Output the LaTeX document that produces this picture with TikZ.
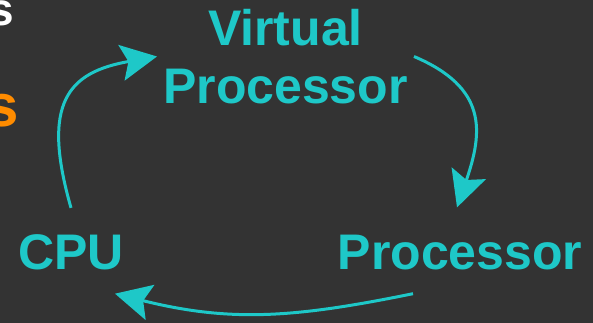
\documentclass[tikz,border=0pt]{standalone}
\usepackage{fontspec}
\setmainfont{Liberation Sans}
\usetikzlibrary{arrows.meta,positioning}
\definecolor{slate}{RGB}{51,51,51}
\definecolor{vpcyan}{RGB}{30,200,200}
\definecolor{vporange}{RGB}{255,140,0}

\begin{document}
\begin{tikzpicture}[x=1pt,y=1pt,
    lbl/.style={font=\fontsize{50}{58}\selectfont\bfseries, text=vpcyan,
      inner sep=6pt, align=center},
    cyc/.style={vpcyan, line width=3pt,
      -{Stealth[length=36pt,width=36pt,inset=7pt]}},
    cut/.style={inner sep=0pt, anchor=base east}
  ]
  \fill[slate] (0,0) rectangle (593,323);
  \clip (0,0) rectangle (593,323);
  % word endings running in from the left edge
  \node[cut, text=white, font=\fontsize{46}{50}\selectfont\bfseries] (sw) at (14.4,297) {s};
  \node[cut, text=vporange, font=\fontsize{60}{66}\selectfont\bfseries] (so) at (19.5,196) {s};
  % the three stages
  \node[lbl] (vp) at (285.5,266.5) {Virtual\\Processor};
  \node[lbl, anchor=base] (cpu) at (71,53) {CPU};
  \node[lbl, anchor=base] (pr) at (460,53) {Processor};
  % loose ends of the arrows
  \coordinate (c1) at ([yshift=21pt]cpu.north);
  \coordinate (p1) at ([xshift=-3pt,yshift=22pt]pr.north);
  \coordinate (p2) at ([xshift=-47pt,yshift=-17pt]pr.south);
  \coordinate (c2) at ([xshift=44pt,yshift=-17pt]cpu.south);
  \draw[cyc] (c1) .. controls +(106:110) and +(190:90) .. (vp.west);
  \draw[cyc] (vp.east) .. controls +(-23:80) and +(71:80) .. (p1);
  \draw[cyc] (p2) .. controls +(191.5:120) and +(-14:120) .. (c2);
\end{tikzpicture}
\end{document}
